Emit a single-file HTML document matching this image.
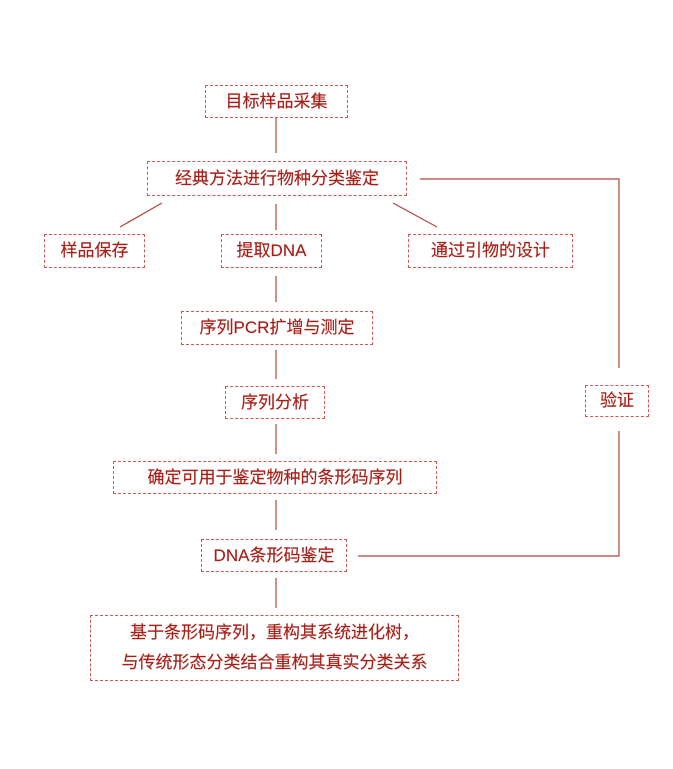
<!DOCTYPE html>
<html><head><meta charset="utf-8"><style>
body{margin:0;width:673px;height:769px;background:#fff;position:relative;font-family:"Liberation Sans Narrow","Liberation Sans","Noto Sans CJK SC",sans-serif;}
.b{position:absolute;box-sizing:border-box;border:1px dashed #cc5a50;color:#a81e16;font-size:17px;display:flex;align-items:center;justify-content:center;text-align:center;line-height:30px;white-space:nowrap;-webkit-text-stroke:0.15px #a81e16;}
svg{position:absolute;left:0;top:0}
</style></head><body>
<svg width="673" height="769"><g stroke="#b0463c" stroke-width="1.2" fill="none">
<line x1="276" y1="117" x2="276" y2="153"/>
<line x1="276" y1="204" x2="276" y2="230"/>
<line x1="276" y1="276" x2="276" y2="302"/>
<line x1="276" y1="350" x2="276" y2="379"/>
<line x1="276" y1="424" x2="276" y2="454"/>
<line x1="276" y1="500" x2="276" y2="530"/>
<line x1="276" y1="578" x2="276" y2="608"/>
<line x1="162" y1="203" x2="120" y2="227"/>
<line x1="393" y1="203" x2="437" y2="227"/>
<polyline points="420,179 619,179 619,368"/>
<polyline points="619,431 619,556 358,556"/>
</g></svg>
<div class="b" style="left:205px;top:85px;width:143px;height:33px">目标样品采集</div>
<div class="b" style="left:147px;top:161px;width:260px;height:35px">经典方法进行物种分类鉴定</div>
<div class="b" style="left:44px;top:234px;width:101px;height:34px">样品保存</div>
<div class="b" style="left:221px;top:234px;width:101px;height:34px">提取DNA</div>
<div class="b" style="left:408px;top:234px;width:165px;height:34px">通过引物的设计</div>
<div class="b" style="left:181px;top:311px;width:192px;height:34px">序列PCR扩增与测定</div>
<div class="b" style="left:225px;top:386px;width:100px;height:33px">序列分析</div>
<div class="b" style="left:585px;top:385px;width:64px;height:32px">验证</div>
<div class="b" style="left:113px;top:461px;width:324px;height:33px">确定可用于鉴定物种的条形码序列</div>
<div class="b" style="left:201px;top:539px;width:146px;height:33px">DNA条形码鉴定</div>
<div class="b" style="left:90px;top:615px;width:369px;height:66px">基于条形码序列，重构其系统进化树，<br>与传统形态分类结合重构其真实分类关系</div>
</body></html>
